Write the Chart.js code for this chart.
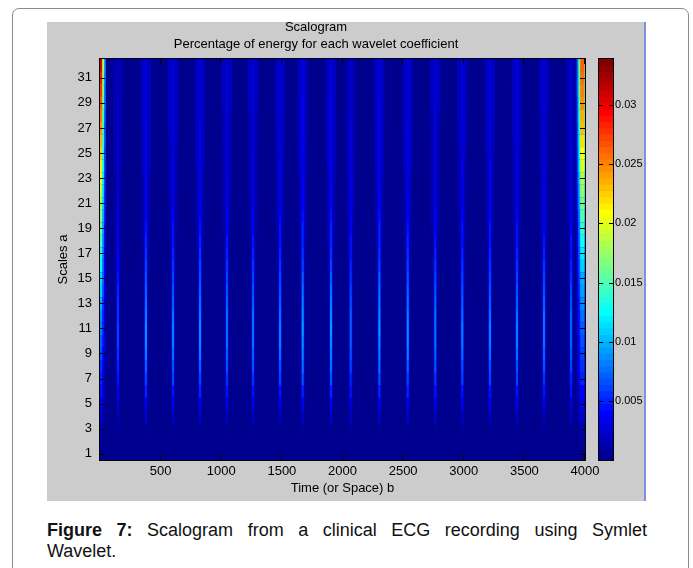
<!DOCTYPE html>
<html>
<head>
<meta charset="utf-8">
<title>Scalogram</title>
<script src="https://cdn.jsdelivr.net/npm/chart.js@4.4.1/dist/chart.umd.min.js"></script>
<style>
  html, body { margin: 0; padding: 0; background: #fff; }
  body { width: 693px; height: 568px; position: relative; overflow: hidden; font-family: 'Liberation Sans', Arial, sans-serif; }
  #frame { position: absolute; left: 12px; top: 8px; width: 675px; height: 620px; border: 1px solid #8c8c8c; border-radius: 7px; }
  #figure { position: absolute; left: 47px; top: 22px; width: 597px; height: 479px; background: #cccccc; border-right: 2px solid #7f8fe2; }
  #scalogram { position: absolute; left: 0; top: 0; }
  #colorbar { position: absolute; left: 543px; top: 0; }
  #caption { position: absolute; left: 47px; top: 520px; width: 600px; font-size: 18px; line-height: 21px; color: #111; }
  #caption .first { text-align: justify; text-align-last: justify; }
</style>
</head>
<body>
<div id="frame"></div>
<div id="figure">
  <canvas id="scalogram" width="597" height="479"></canvas>
  <canvas id="colorbar" width="54" height="479"></canvas>
</div>
<div id="caption"><div class="first"><b>Figure 7:</b> Scalogram from a clinical ECG recording using Symlet</div><div>Wavelet.</div></div>

<script>
// --- data ---
const scaleRows = [1, 2, 3, 4, 5, 6, 7, 8, 9, 10, 11, 12, 13, 14, 15, 16,
                   17, 18, 19, 20, 21, 22, 23, 24, 25, 26, 27, 28, 29, 30, 31, 32];
const xTicks = [500, 1000, 1500, 2000, 2500, 3000, 3500, 4000];
const yTicks = [1, 3, 5, 7, 9, 11, 13, 15, 17, 19, 21, 23, 25, 27, 29, 31];
const cbTicks = [0.005, 0.01, 0.015, 0.02, 0.025, 0.03];
const cMin = 0;
const cMax = 0.0339;
const signalLength = 4000;

// sample position of each QRS ridge and its relative strength
const beats = [148, 379, 602, 825, 1047, 1262, 1485, 1672, 1905, 2068, 2304, 2538, 2765, 2988, 3216, 3439, 3662, 3885];
const beatGain = [0.7, 1.0, 0.95, 1.0, 0.9, 0.9, 0.95, 1.05, 1.05, 0.85, 1.05, 1.0, 0.9, 0.95, 0.95, 0.95, 0.9, 0.85];

// energy (%) of a ridge per scale a = 1..32
const ridgeCore = [0, 0, 0.001, 0.0022, 0.0036, 0.005, 0.0062, 0.0072, 0.008, 0.0085, 0.0086, 0.0083,
                   0.0078, 0.0072, 0.0066, 0.006, 0.0055, 0.005, 0.0046, 0.0042, 0.0039, 0.0037, 0.0035, 0.0034,
                   0.0033, 0.0032, 0.0032, 0.0031, 0.0031, 0.003, 0.003, 0.003];
const ridgeSide = [0, 0, 0.0004, 0.0008, 0.0013, 0.0018, 0.0022, 0.0025, 0.0027, 0.0028, 0.0028, 0.0028,
                   0.0027, 0.0026, 0.0025, 0.0024, 0.0023, 0.0022, 0.0022, 0.0021, 0.0021, 0.0021, 0.0021, 0.0021,
                   0.0021, 0.0021, 0.0021, 0.0021, 0.0021, 0.0021, 0.0021, 0.0021];
const ridgeWide = [0, 0, 0, 0, 0, 0, 0, 0, 0, 0, 0, 0, 0,
                   0.0006, 0.0008, 0.0009, 0.001, 0.0011, 0.0012, 0.0013, 0.0014, 0.0015, 0.0015, 0.0016,
                   0.0016, 0.0017, 0.0017, 0.0017, 0.0018, 0.0018, 0.0018, 0.0018];
const ridgeWideHalf = [0, 0, 0, 0, 0, 0, 0, 0, 0, 0, 0, 0, 0,
                       20, 22, 24, 26, 28, 30, 32, 33, 34, 35, 36, 37, 38, 39, 40, 40, 40, 40, 40];

// border effects at both ends of the record
const edgeLeft = [0.0004, 0.0008, 0.0015, 0.0025, 0.0035, 0.0045, 0.005, 0.0058, 0.0065, 0.0072, 0.008, 0.0088,
                  0.0097, 0.0106, 0.0115, 0.0125, 0.0135, 0.0145, 0.0155, 0.0165, 0.0178, 0.019, 0.0203, 0.0215,
                  0.0225, 0.0235, 0.0245, 0.0255, 0.0265, 0.0278, 0.029, 0.031];
const edgeRight = [0.0004, 0.0008, 0.0015, 0.0025, 0.0035, 0.0042, 0.0048, 0.0054, 0.006, 0.0066, 0.0072, 0.0078,
                   0.0085, 0.0092, 0.01, 0.011, 0.012, 0.013, 0.014, 0.015, 0.016, 0.0172, 0.0184, 0.0196,
                   0.0208, 0.0218, 0.0228, 0.0236, 0.0244, 0.025, 0.0256, 0.026];
const rightEdgeAt = 3978;

const FONT = "'Liberation Sans', Arial, sans-serif";

// MATLAB jet(64)
function jet(v) {
    const k = Math.floor((v - cMin) / (cMax - cMin) * 64);
    const i = Math.min(63, Math.max(0, k)) + 1;
    let r = 0, g = 0, b = 0;
    if (i <= 8) b = 0.5 + i / 16;
    else if (i <= 24) b = 1;
    else if (i <= 39) b = (40 - i) / 16;
    if (i >= 9 && i <= 24) g = (i - 8) / 16;
    else if (i >= 25 && i <= 39) g = 1;
    else if (i >= 40 && i <= 55) g = (56 - i) / 16;
    if (i >= 25 && i <= 40) r = (i - 24) / 16;
    else if (i >= 41 && i <= 56) r = 1;
    else if (i >= 57) r = (72 - i) / 16;
    return `rgb(${Math.round(r * 255)},${Math.round(g * 255)},${Math.round(b * 255)})`;
}

function seg(a, from, to, v) {
    return { x: [from, to], y: a, v };
}

function layer(data, order) {
    return {
        data,
        order,
        grouped: false,
        barPercentage: 1,
        categoryPercentage: 1,
        borderWidth: 0,
        backgroundColor: ctx => jet(ctx.raw ? ctx.raw.v : 0)
    };
}

function buildDatasets() {
    const bg = [], wide = [], side = [], core = [], edges = [];
    scaleRows.forEach((a, s) => {
        bg.push(seg(a, 0, signalLength, 0));
        beats.forEach((b, i) => {
            if (ridgeWide[s] > 0) wide.push(seg(a, b - ridgeWideHalf[s], b + ridgeWideHalf[s], ridgeWide[s] * beatGain[i]));
            if (ridgeSide[s] > 0) side.push(seg(a, b - 13, b + 13, ridgeSide[s] * beatGain[i]));
            if (ridgeCore[s] > 0) core.push(seg(a, b - 6, b + 6, ridgeCore[s] * beatGain[i]));
        });
        // wide, mid, narrow parts of the border effect
        [[44, 0.3], [30, 0.6], [15, 1]].forEach(([half, lvl]) => {
            edges.push(seg(a, 0, half, edgeLeft[s] * lvl));
            edges.push(seg(a, rightEdgeAt - half, rightEdgeAt + half, edgeRight[s] * lvl));
        });
    });
    return [layer(bg, 9), layer(wide, 8), layer(side, 7), layer(core, 6), layer(edges, 5)];
}

// dark fill under the cells so row seams do not show the figure grey
const plotFill = {
    id: 'plotFill',
    beforeDatasetsDraw(chart) {
        const { ctx, chartArea: a } = chart;
        ctx.save();
        ctx.fillStyle = jet(cMin);
        ctx.fillRect(a.left, a.top, a.right - a.left, a.bottom - a.top);
        ctx.restore();
    }
};

// MATLAB style box with inward ticks on all sides
const axesBox = {
    id: 'axesBox',
    afterDatasetsDraw(chart, args, opts) {
        const { ctx, chartArea: a } = chart;
        const xs = chart.scales[opts.xId], ys = chart.scales[opts.yId];
        ctx.save();
        ctx.strokeStyle = '#000';
        ctx.lineWidth = 1;
        ctx.beginPath();
        (opts.xTicks || []).forEach(v => {
            const px = Math.round(xs.getPixelForValue(v)) - 0.5;
            ctx.moveTo(px, a.bottom); ctx.lineTo(px, a.bottom - opts.len);
            ctx.moveTo(px, a.top); ctx.lineTo(px, a.top + opts.len);
        });
        (opts.yTicks || []).forEach(v => {
            const py = Math.round(ys.getPixelForValue(v)) + 0.5;
            ctx.moveTo(a.left, py); ctx.lineTo(a.left + opts.len, py);
            ctx.moveTo(a.right, py); ctx.lineTo(a.right - opts.len, py);
        });
        ctx.stroke();
        ctx.strokeRect(a.left - 0.5, a.top - 0.5, a.right - a.left + 1, a.bottom - a.top + 1);
        ctx.restore();
    }
};

new Chart(document.getElementById('scalogram'), {
    type: 'bar',
    data: { datasets: buildDatasets() },
    options: {
        indexAxis: 'y',
        responsive: false,
        animation: false,
        events: [],
        layout: { padding: { left: 0, right: 59, top: 0, bottom: 0 } },
        plugins: {
            legend: { display: false },
            tooltip: { enabled: false },
            title: {
                display: true,
                text: 'Scalogram',
                color: '#000',
                font: { family: FONT, size: 13, weight: 'normal', lineHeight: 0.77 },
                padding: { top: 0, bottom: 7 }
            },
            subtitle: {
                display: true,
                text: 'Percentage of energy for each wavelet coefficient',
                color: '#000',
                font: { family: FONT, size: 13, weight: 'normal', lineHeight: 0.77 },
                padding: { top: 0, bottom: 10 }
            },
            axesBox: { xId: 'x', yId: 'y', xTicks, yTicks, len: 5 }
        },
        scales: {
            x: {
                type: 'linear',
                min: 0,
                max: signalLength,
                grid: { display: false, drawTicks: false },
                border: { display: false },
                afterBuildTicks: s => { s.ticks = xTicks.map(v => ({ value: v })); },
                afterFit: s => { s.height = 41; },
                ticks: { color: '#000', padding: 4, maxRotation: 0, callback: v => String(v),
                         font: { family: FONT, size: 13 } },
                title: { display: true, text: 'Time (or Space) b', color: '#000', padding: { top: 0, bottom: 6 },
                         font: { family: FONT, size: 13, lineHeight: 1 } }
            },
            y: {
                type: 'linear',
                min: 0.5,
                max: 32.5,
                offset: false,
                grid: { display: false, drawTicks: false, offset: false },
                border: { display: false },
                afterBuildTicks: s => { s.ticks = yTicks.map(v => ({ value: v })); },
                afterFit: s => { s.width = 53; },
                ticks: { color: '#000', padding: 8, callback: v => String(v), font: { family: FONT, size: 13 } },
                title: { display: true, text: 'Scales a', color: '#000', padding: { top: 9.5, bottom: 0 },
                         font: { family: FONT, size: 13, lineHeight: 1 } }
            }
        }
    },
    plugins: [plotFill, axesBox]
});

// colour bar: 64 cells of the jet map
const cbStep = (cMax - cMin) / 64;
const cbCells = [];
for (let k = 0; k < 64; k++) {
    cbCells.push({ x: 'jet', y: [cMin + k * cbStep, cMin + (k + 1) * cbStep], v: cMin + (k + 0.5) * cbStep });
}

new Chart(document.getElementById('colorbar'), {
    type: 'bar',
    data: {
        labels: ['jet'],
        datasets: [{
            data: cbCells,
            barPercentage: 1,
            categoryPercentage: 1,
            borderWidth: 0,
            backgroundColor: ctx => jet(ctx.raw ? ctx.raw.v : 0)
        }]
    },
    options: {
        responsive: false,
        animation: false,
        events: [],
        layout: { padding: { left: 9, right: 0, top: 37, bottom: 41 } },
        plugins: {
            legend: { display: false },
            tooltip: { enabled: false },
            axesBox: { xId: 'x', yId: 'y', yTicks: cbTicks, len: 4 }
        },
        scales: {
            x: { display: false },
            y: {
                position: 'right',
                min: cMin,
                max: cMax,
                grid: { display: false, drawTicks: false },
                border: { display: false },
                afterBuildTicks: s => { s.ticks = cbTicks.map(v => ({ value: v })); },
                afterFit: s => { s.width = 31; },
                ticks: { color: '#000', padding: 2, callback: v => String(v), font: { family: FONT, size: 11 } }
            }
        }
    },
    plugins: [plotFill, axesBox]
});
</script>
</body>
</html>
